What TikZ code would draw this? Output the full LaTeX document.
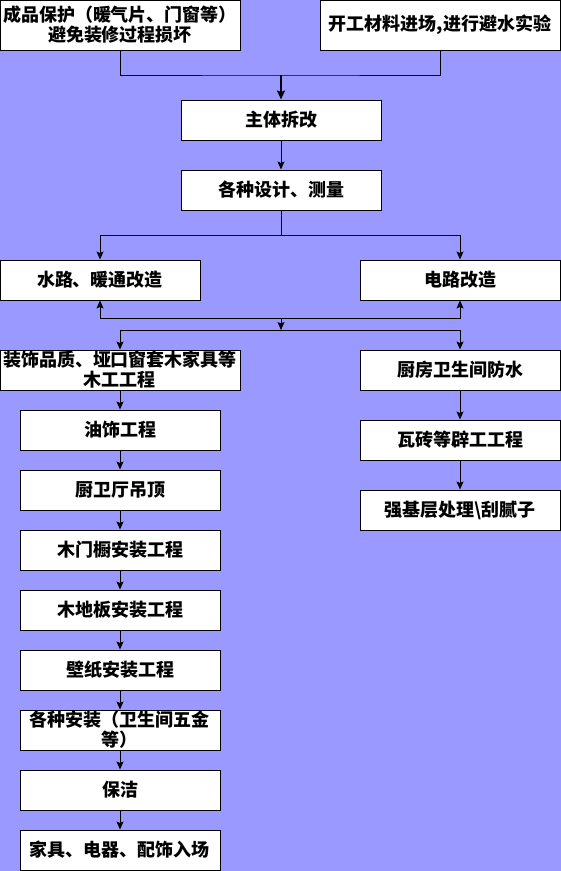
\documentclass[tikz,border=0pt]{standalone}
\usepackage{fontspec}
\newfontfamily\cjk{Noto Sans CJK SC}
\usetikzlibrary{arrows.meta}
\definecolor{bgc}{RGB}{153,153,255}
\begin{document}
\begin{tikzpicture}[x=1pt,y=-1pt,
  box/.style={draw=black, fill=white, line width=1pt, inner sep=0pt, align=center,
    minimum width=200pt, minimum height=40pt,
    font=\cjk\bfseries\fontsize{18}{20}\selectfont},
  widebox/.style={box, minimum width=240pt},
  conn/.style={line width=1pt, draw=black},
  arr/.style={conn, -{Stealth[length=8pt,width=7pt,inset=1.5pt]}},
  arrthick/.style={line width=2pt, draw=black, -{Stealth[length=9pt,width=8pt,inset=1.5pt]}}]
\fill[bgc] (0,0) rectangle (561,871);
\useasboundingbox (0,0) rectangle (561,871);

\node[widebox, minimum height=50pt] (b1) at (120,25) {成品保护（暖气片、门窗等）\\避免装修过程损坏};
\node[widebox, minimum height=50pt] (b2) at (440,25) {开工材料进场,进行避水实验};
\node[box] (b3) at (281,120) {主体拆改};
\node[box] (b4) at (281,190) {各种设计、测量};
\node[box] (b5) at (100,280) {水路、暖通改造};
\node[box] (b6) at (460,280) {电路改造};
\node[widebox] (b7) at (120,370) {装饰品质、垭口窗套木家具等\\木工工程};
\node[box] (b8) at (460,370) {厨房卫生间防水};
\node[box] (b9) at (460,440) {瓦砖等辟工工程};
\node[box] (b10) at (460,510) {强基层处理\textbackslash 刮腻子};

\node[box] (l1) at (120,430) {油饰工程};
\node[box] (l2) at (120,490) {厨卫厅吊顶};
\node[box] (l3) at (120,550) {木门橱安装工程};
\node[box] (l4) at (120,610) {木地板安装工程};
\node[box] (l5) at (120,670) {壁纸安装工程};
\node[box] (l6) at (120,730) {各种安装（卫生间五金\\等）};
\node[box] (l7) at (120,790) {保洁};
\node[box] (l8) at (120,850) {家具、电器、配饰入场};

\coordinate (j1) at (281,75);
\coordinate (j2) at (281,235);
\coordinate (j3) at (281,318);
\coordinate (j4) at (281,330);

\draw[conn] (b1.south) |- (j1) -| (b2.south);
\draw[arrthick] (j1) -- (b3);
\draw[arr] (b3) -- (b4);
\draw[conn] (b4.south) -- (j2);
\draw[arr] (j2) -| (b5.north);
\draw[arr] (j2) -| (b6.north);
\draw[arr] (j3) -| (b5.south);
\draw[arr] (j3) -| (b6.south);
\draw[arr] (j3) -- (j4);
\draw[arr] (j4) -| (b7.north);
\draw[arr] (j4) -| (b8.north);
\draw[arr] (b8) -- (b9);
\draw[arr] (b9) -- (b10);
\draw[arr] (b7) -- (l1);
\draw[arr] (l1) -- (l2);
\draw[arr] (l2) -- (l3);
\draw[arr] (l3) -- (l4);
\draw[arr] (l4) -- (l5);
\draw[arr] (l5) -- (l6);
\draw[arr] (l6) -- (l7);
\draw[arr] (l7) -- (l8);
\end{tikzpicture}
\end{document}
